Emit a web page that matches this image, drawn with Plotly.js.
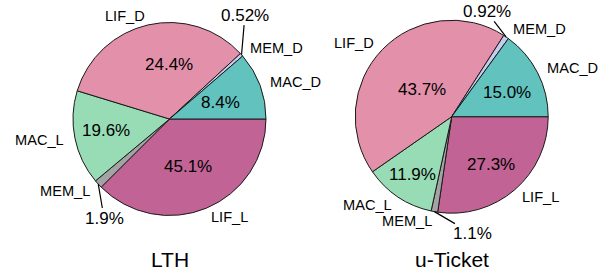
<!DOCTYPE html>
<html><head><meta charset="utf-8">
<script src="https://cdn.plot.ly/plotly-3.0.1.min.js"></script>
<style>html,body{margin:0;padding:0;background:#fff}#chart{width:615px;height:276px}</style>
</head><body><div id="chart"></div>
<script>
// ---- data ----
const categories = ['MAC_D', 'MEM_D', 'LIF_D', 'MAC_L', 'MEM_L', 'LIF_L'];
const lthWedges = [11.3, 0.56, 33.4, 15.8, 1.4, 37.5];        // wedge sizes as drawn
const lthPercents = [8.4, 0.52, 24.4, 19.6, 1.9, 45.1];       // printed percentages
const uticketPercents = [15.0, 0.92, 43.7, 11.9, 1.1, 27.3];  // wedges = printed
const titles = ['LTH', 'u-Ticket'];

// ---- style ----
const colors = ['#61c2be', '#c6cbef', '#e391aa', '#98dcb6', '#a3a3a3', '#c26395'];
const FONT = 'Liberation Sans, Arial, sans-serif';
const LABEL_SIZE = 14.6, PCT_SIZE = 17, TITLE_SIZE = 21;
const labelDist = 1.1;
// per-slice placement of the percentage text (radius factor, angle shift in degrees)
const pctDist = [[0.56, 1.33, 0.565, 0.667, 1.23, 0.53], [0.63, 1.15, 0.42, 0.72, 1.23, 0.64]];
const pctShift = [[-2.5, 12.3, -12.2, -1.6, 14.1, -1.5], [-3.6, 16, 1, -0.5, 20.2, -0.9]];
const leader = [[false, true, false, false, true, false], [false, true, false, false, true, false]];

const W = 615, H = 276;
const domains = [
  {x: [0.11870, 0.43252], y: [0.21920, 0.91848]},
  {x: [0.57756, 0.89138], y: [0.22754, 0.92681]}
];
const wedgeSets = [lthWedges, uticketPercents];
const pctSets = [lthPercents, uticketPercents];
const fmt = v => (v < 1 ? v.toFixed(2) : v.toFixed(1)) + '%';
const rev = a => a.slice().reverse();

const traces = wedgeSets.map((vals, t) => ({
  type: 'pie',
  labels: rev(categories),
  values: rev(vals),
  sort: false,
  direction: 'clockwise',
  rotation: 90,
  textinfo: 'none',
  hoverinfo: 'skip',
  domain: domains[t],
  marker: {colors: rev(colors), line: {color: '#1a1a1a', width: 1}}
}));

const layout = {
  width: W, height: H,
  margin: {l: 0, r: 0, t: 0, b: 0},
  paper_bgcolor: '#fff',
  showlegend: false,
  font: {family: FONT, size: LABEL_SIZE, color: '#000'}
};

const gd = document.getElementById('chart');
Plotly.newPlot(gd, traces, layout, {staticPlot: true}).then(() => {
  const gs = gd._fullLayout._size;
  const toX = px => (px - gs.l) / gs.w;
  const toY = py => 1 - (py - gs.t) / gs.h;
  const anns = [];
  const n = categories.length;
  gd.calcdata.forEach((cd, t) => {
    const cd0 = cd[0];
    const cx = cd0.cx, cy = cd0.cy, r = cd0.r;
    cd.forEach((pt, j) => {
      const idx = (pt.i !== undefined ? pt.i : j);
      const k = n - 1 - idx;
      let mid = pt.midangle;
      if (mid === undefined) mid = Math.atan2(pt.pxmid[0], -pt.pxmid[1]);
      const deg = 90 - mid * 180 / Math.PI;
      const a = deg * Math.PI / 180;
      // category label
      const lx = cx + labelDist * r * Math.cos(a), ly = cy - labelDist * r * Math.sin(a);
      anns.push({
        x: toX(lx), y: toY(ly), xref: 'paper', yref: 'paper',
        text: categories[k], showarrow: false,
        xanchor: Math.cos(a) >= 0 ? 'left' : 'right', yanchor: 'middle',
        font: {family: FONT, size: LABEL_SIZE, color: '#000'}, borderpad: 0
      });
      // percentage
      const b = (deg + pctShift[t][k]) * Math.PI / 180;
      const d = pctDist[t][k];
      const tx = cx + d * r * Math.cos(b), ty = cy - d * r * Math.sin(b);
      if (leader[t][k]) {
        const ex = cx + r * Math.cos(a), ey = cy - r * Math.sin(a);
        anns.push({
          x: toX(ex), y: toY(ey), xref: 'paper', yref: 'paper',
          ax: tx - ex, ay: ty - ey, axref: 'pixel', ayref: 'pixel',
          text: fmt(pctSets[t][k]), showarrow: true, arrowhead: 0,
          arrowwidth: 1.2, arrowcolor: '#000', standoff: 0, borderpad: 0,
          font: {family: FONT, size: PCT_SIZE, color: '#000'}
        });
      } else {
        anns.push({
          x: toX(tx), y: toY(ty), xref: 'paper', yref: 'paper',
          text: fmt(pctSets[t][k]), showarrow: false,
          xanchor: 'center', yanchor: 'middle', borderpad: 0,
          font: {family: FONT, size: PCT_SIZE, color: '#000'}
        });
      }
    });
    // subplot title below the pie
    anns.push({
      x: toX(cx), y: toY(259), xref: 'paper', yref: 'paper',
      text: titles[t], showarrow: false, xanchor: 'center', yanchor: 'middle',
      font: {family: FONT, size: TITLE_SIZE, color: '#000'}
    });
  });
  return Plotly.relayout(gd, {annotations: anns});
});
</script>
</body></html>
